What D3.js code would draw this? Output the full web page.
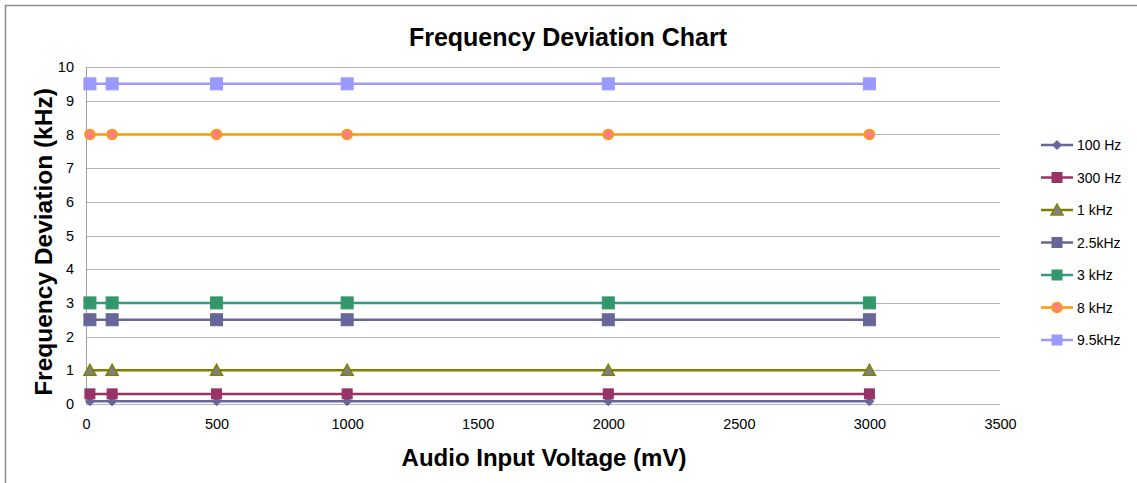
<!DOCTYPE html>
<html><head><meta charset="utf-8">
<script src="https://cdn.jsdelivr.net/npm/d3@7"></script>
<style>body{margin:0;background:#fff}svg{display:block;font-family:"Liberation Sans",Arial,sans-serif}</style>
</head><body><svg id="c" width="1137" height="483"></svg>
<script>
const xValues = [15, 100, 500, 1000, 2000, 3000];
const seriesNames = ["100 Hz","300 Hz","1 kHz","2.5kHz","3 kHz","8 kHz","9.5kHz"];
const s100Hz  = [0.08,0.08,0.08,0.08,0.08,0.08];
const s300Hz  = [0.3,0.3,0.3,0.3,0.3,0.3];
const s1kHz   = [1,1,1,1,1,1];
const s2500Hz = [2.5,2.5,2.5,2.5,2.5,2.5];
const s3kHz   = [3,3,3,3,3,3];
const s8kHz   = [8,8,8,8,8,8];
const s9500Hz = [9.5,9.5,9.5,9.5,9.5,9.5];
const xTicks = [0,500,1000,1500,2000,2500,3000,3500];
const yTicks = [0,1,2,3,4,5,6,7,8,9,10];

const series = [
 {name:seriesNames[0], v:s100Hz, line:"#666699", shape:"diamond", fill:"#666699", stroke:"#666699", size:9},
 {name:seriesNames[1], v:s300Hz, line:"#993366", shape:"square", fill:"#993366", stroke:"#993366", size:10},
 {name:seriesNames[2], v:s1kHz, line:"#808000", shape:"triangle", fill:"#808080", stroke:"#808000", size:10},
 {name:seriesNames[3], v:s2500Hz, line:"#666699", shape:"square", fill:"#666699", stroke:"#666699", size:12},
 {name:seriesNames[4], v:s3kHz, line:"#339980", shape:"squarex", fill:"#339966", stroke:"#339966", size:12},
 {name:seriesNames[5], v:s8kHz, line:"#FF9900", shape:"circle", fill:"#FF8080", stroke:"#FF9900", size:10},
 {name:seriesNames[6], v:s9500Hz, line:"#9999FF", shape:"square", fill:"#9999FF", stroke:"#9999FF", size:12}
];

const svg = d3.select("#c");
svg.append("path").attr("d","M5.5,483 L5.5,5.5 L1137,5.5").attr("fill","none").attr("stroke","#8c8c8c").attr("stroke-width",1.5);

const L=86, R=1000, T=67, B=404;
const x = d3.scaleLinear().domain([0,3500]).range([L,R]);
const y = d3.scaleLinear().domain([0,10]).range([B,T]);

svg.append("g").selectAll("line").data(yTicks).join("line")
 .attr("x1",L).attr("x2",R).attr("y1",d=>Math.round(y(d))+0.5).attr("y2",d=>Math.round(y(d))+0.5)
 .attr("stroke","#b3b3b3").attr("stroke-width",1);
svg.append("line").attr("x1",L+0.5).attr("x2",L+0.5).attr("y1",T).attr("y2",B+1).attr("stroke","#a0a0a0");

const yAxis = d3.axisLeft(y).tickValues(yTicks).tickFormat(d3.format("d")).tickSize(0).tickPadding(12);
const gy = svg.append("g").attr("transform",`translate(${L},0)`).call(yAxis);
gy.select(".domain").remove();
gy.selectAll("text").attr("font-size",14.5).attr("fill","#000").attr("font-family","Liberation Sans, Arial, sans-serif");

const xAxis = d3.axisBottom(x).tickValues(xTicks).tickFormat(d3.format("d")).tickSize(0).tickPadding(15);
const gx = svg.append("g").attr("transform",`translate(0,${B})`).call(xAxis);
gx.select(".domain").remove();
gx.selectAll("text").attr("font-size",14.5).attr("fill","#000").attr("font-family","Liberation Sans, Arial, sans-serif");

function marker(g, s, cx, cy){
  const h=s.size/2;
  if(s.shape==="square"||s.shape==="squarex"){
    g.append("rect").attr("x",cx-h).attr("y",cy-h).attr("width",s.size).attr("height",s.size).attr("fill",s.fill).attr("stroke",s.stroke);
    if(s.shape==="squarex"){
      g.append("path").attr("d",`M${cx-h+2},${cy-h+2}L${cx+h-2},${cy+h-2}M${cx+h-2},${cy-h+2}L${cx-h+2},${cy+h-2}`).attr("stroke","#2f8a8a").attr("stroke-width",1);
    }
  } else if(s.shape==="diamond"){
    g.append("path").attr("d",`M${cx},${cy-h}L${cx+h},${cy}L${cx},${cy+h}L${cx-h},${cy}Z`).attr("fill",s.fill).attr("stroke",s.stroke);
  } else if(s.shape==="triangle"){
    g.append("path").attr("d",`M${cx},${cy-h-1}L${cx+h+1},${cy+h}L${cx-h-1},${cy+h}Z`).attr("fill",s.fill).attr("stroke",s.stroke).attr("stroke-width",1.5);
  } else if(s.shape==="circle"){
    g.append("circle").attr("cx",cx).attr("cy",cy).attr("r",h).attr("fill",s.fill).attr("stroke",s.stroke).attr("stroke-width",1.5);
  }
}

const line = d3.line().x((d,i)=>x(xValues[i])).y(d=>y(d));
series.forEach(s=>{
  const g = svg.append("g");
  g.append("path").attr("d",line(s.v)).attr("fill","none").attr("stroke",s.line).attr("stroke-width",2.5);
  s.v.forEach((v,i)=>marker(g,s,x(xValues[i]),y(v)));
});

svg.append("text").attr("x",568).attr("y",46).attr("text-anchor","middle").attr("font-size",25).attr("font-weight","bold").text("Frequency Deviation Chart");
svg.append("text").attr("x",544).attr("y",466).attr("text-anchor","middle").attr("font-size",24).attr("font-weight","bold").text("Audio Input Voltage (mV)");
svg.append("text").attr("transform","translate(52,242) rotate(-90)").attr("text-anchor","middle").attr("font-size",24.5).attr("font-weight","bold").text("Frequency Deviation (kHz)");

const lg = svg.append("g");
series.forEach((s,i)=>{
  const yy = 145 + i*32.5;
  const g = lg.append("g");
  g.append("line").attr("x1",1041).attr("x2",1073).attr("y1",yy).attr("y2",yy).attr("stroke",s.line).attr("stroke-width",2.5);
  const ms = Object.assign({},s,{size:Math.min(s.size,10)});
  marker(g,ms,1057,yy);
  g.append("text").attr("x",1077).attr("y",yy+5).attr("font-size",14).attr("fill","#000").text(s.name);
});
</script></body></html>
